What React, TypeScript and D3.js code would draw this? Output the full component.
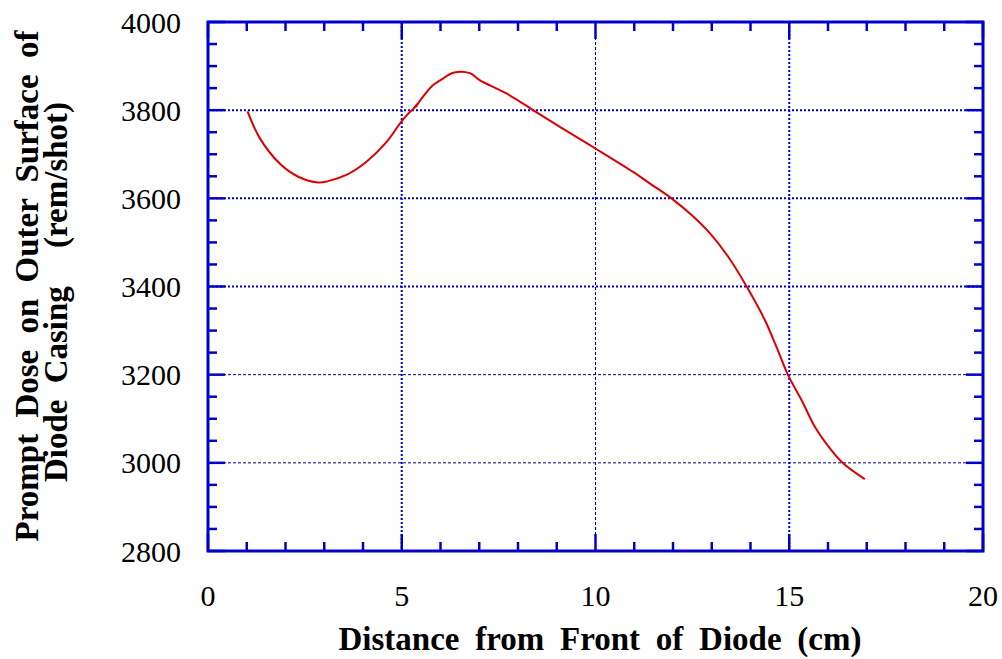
import React from "react";
import * as d3 from "d3";

const width = 1002;
const height = 659;
const margin = { top: 22, right: 20, bottom: 108, left: 208 };

// dose along the outer surface of the casing
const distance = [1.02, 1.34, 1.85, 2.33, 2.84, 3.1, 3.57, 4.09, 4.61, 4.99, 5.2, 5.29, 5.42, 5.36, 5.5, 5.81, 6.0, 6.33, 6.76, 7.01, 7.7, 8.39, 9.08, 10.0, 10.97, 11.4, 11.96, 12.48, 12.95, 13.42, 13.9, 14.37, 14.67, 14.97, 15.32, 15.66, 16.05, 16.39, 16.95];
const dose = [3797, 3736, 3679, 3649, 3636, 3639, 3653, 3683, 3728, 3774, 3795, 3802, 3816, 3807, 3825, 3857, 3868, 3885, 3884, 3868, 3838, 3800, 3762, 3713, 3660, 3634, 3600, 3562, 3521, 3468, 3400, 3324, 3263, 3199, 3142, 3082, 3033, 2999, 2963];

const xTicks = [0, 5, 10, 15, 20];
const yTicks = [2800, 3000, 3200, 3400, 3600, 3800, 4000];
const xGridBold = [5, 15];
const xGridThin = [10];
const yGridBold = [3400, 3600, 3800];
const yGridThin = [3000, 3200];

const xTitle = "Distance from Front of Diode (cm)";
const yTitle1 = "Prompt Dose on Outer Surface of";
const yTitle2a = "Diode Casing";
const yTitle2b = " (rem/shot)";

const serif = "'Liberation Serif', 'Times New Roman', Times, 'DejaVu Serif', serif";

export default function App() {
  const blue = "#0000cc";
  const x = d3.scaleLinear().domain([0, 20]).range([margin.left, width - margin.right + 1]);
  const y = d3.scaleLinear().domain([2800, 4000]).range([height - margin.bottom, margin.top]);

  const pts = distance.map((d, i) => [d, dose[i]] as [number, number]);
  const line = d3.line<[number, number]>().x((d) => x(d[0])).y((d) => y(d[1])).curve(d3.curveCatmullRom.alpha(0.5));

  const x0 = x(0), x1 = x(20), y0 = y(2800), y1 = y(4000);
  const minorX = d3.range(0, 21, 1);
  const minorY = d3.range(2800, 4001, 50);

  return (
    <svg width={width} height={height} style={{ position: "absolute", left: 0, top: 0, background: "#fff" }}>
      {/* grid */}
      {xGridBold.map((v) => (
        <line key={"gx" + v} x1={x(v)} x2={x(v)} y1={y1} y2={y0} stroke={blue} strokeWidth={2} strokeDasharray="2,2" />
      ))}
      {xGridThin.map((v) => (
        <line key={"gxt" + v} x1={x(v)} x2={x(v)} y1={y1} y2={y0} stroke="#000088" strokeWidth={1} strokeDasharray="3,2" />
      ))}
      {yGridBold.map((v) => (
        <line key={"gy" + v} x1={x0} x2={x1} y1={y(v)} y2={y(v)} stroke={blue} strokeWidth={2} strokeDasharray="2,2" />
      ))}
      {yGridThin.map((v) => (
        <line key={"gyt" + v} x1={x0} x2={x1} y1={y(v)} y2={y(v)} stroke="#000088" strokeWidth={1} strokeDasharray="3,2" />
      ))}

      {/* ticks on all four sides, pointing inward */}
      {minorX.map((v) => {
        const len = v % 5 === 0 ? 17 : 9;
        return (
          <g key={"tx" + v}>
            <line x1={x(v)} x2={x(v)} y1={y0} y2={y0 - len} stroke={blue} strokeWidth={2.5} />
            <line x1={x(v)} x2={x(v)} y1={y1} y2={y1 + len} stroke={blue} strokeWidth={2.5} />
          </g>
        );
      })}
      {minorY.map((v) => {
        const len = v % 200 === 0 ? 17 : 9;
        return (
          <g key={"ty" + v}>
            <line x1={x0} x2={x0 + len} y1={y(v)} y2={y(v)} stroke={blue} strokeWidth={2.5} />
            <line x1={x1} x2={x1 - len} y1={y(v)} y2={y(v)} stroke={blue} strokeWidth={2.5} />
          </g>
        );
      })}

      {/* frame */}
      <rect x={x0} y={y1} width={x1 - x0} height={y0 - y1} fill="none" stroke={blue} strokeWidth={3} />

      {/* data */}
      <path d={line(pts) || ""} fill="none" stroke="#dd0000" strokeWidth={2} />

      {/* tick labels */}
      <g style={{ fontFamily: serif }} fontSize={30} fill="#000">
        {yTicks.map((v) => (
          <text key={"yl" + v} x={181} y={y(v)} dy="0.35em" textAnchor="end">{v}</text>
        ))}
        {xTicks.map((v) => (
          <text key={"xl" + v} x={x(v)} y={606} textAnchor="middle">{v}</text>
        ))}
      </g>

      {/* axis titles */}
      <g style={{ fontFamily: serif }} fontSize={33} fontWeight="bold" fill="#000">
        <text x={600} y={650} textAnchor="middle" wordSpacing={7.5}>{xTitle}</text>
        <g transform="translate(38, 286) rotate(-90)">
          <text x={0} y={0} textAnchor="middle" wordSpacing={8}>{yTitle1}</text>
        </g>
        <g transform="translate(67, 292) rotate(-90)">
          <text x={0} y={0} textAnchor="middle" wordSpacing={8}>
            <tspan>{yTitle2a}</tspan>
            <tspan dx={22}>{yTitle2b}</tspan>
          </text>
        </g>
      </g>
    </svg>
  );
}
